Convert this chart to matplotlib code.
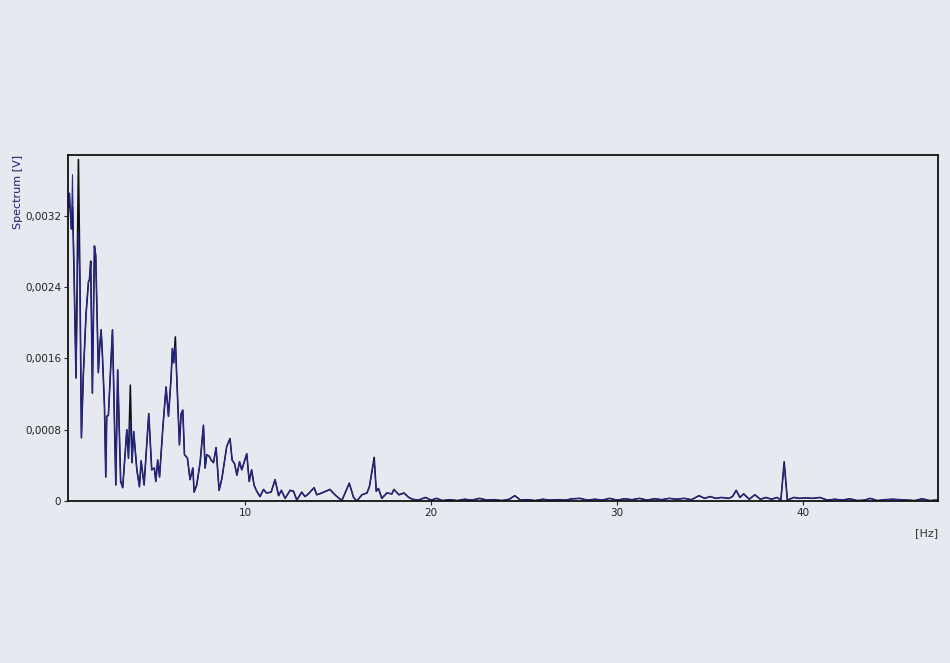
import numpy as np
import matplotlib.pyplot as plt
from matplotlib.ticker import FuncFormatter

# spectrum, amplitude in units of 1e-4 V
freq_hz = [
    0.52, 0.55, 0.66, 0.72, 0.80, 0.91, 1.04, 1.12, 1.20, 1.30,
    1.45, 1.58, 1.63, 1.70, 1.79, 1.90, 1.97, 2.11, 2.19, 2.26,
    2.33, 2.44, 2.51, 2.56, 2.65, 2.87, 3.05, 3.15, 3.31, 3.42,
    3.64, 3.73, 3.83, 3.92, 4.01, 4.18, 4.32, 4.41, 4.57, 4.82,
    4.98, 5.12, 5.20, 5.30, 5.40, 5.57, 5.75, 5.88, 6.02, 6.09,
    6.16, 6.25, 6.31, 6.47, 6.56, 6.65, 6.74, 6.90, 7.04, 7.19,
    7.26, 7.40, 7.58, 7.76, 7.85, 7.94, 8.08, 8.17, 8.30, 8.44,
    8.60, 8.75, 9.01, 9.19, 9.30, 9.43, 9.56, 9.70, 9.82, 10.09,
    10.22, 10.35, 10.48, 10.60, 10.80, 10.99, 11.15, 11.40, 11.61, 11.80,
    11.95, 12.15, 12.42, 12.60, 12.78, 13.04, 13.22, 13.40, 13.71, 13.85,
    14.12, 14.56, 14.83, 15.05, 15.21, 15.60, 15.83, 16.01, 16.28, 16.55,
    16.68, 16.94, 17.05, 17.17, 17.35, 17.62, 17.89, 18.00, 18.27, 18.54,
    18.80, 19.00, 19.30, 19.70, 20.00, 20.30, 20.60, 21.00, 21.40, 21.80,
    22.20, 22.60, 23.00, 23.40, 23.80, 24.20, 24.50, 24.80, 25.20, 25.60,
    26.00, 26.40, 26.80, 27.20, 27.60, 28.00, 28.40, 28.80, 29.20, 29.60,
    30.00, 30.40, 30.80, 31.20, 31.60, 32.00, 32.40, 32.80, 33.20, 33.60,
    34.00, 34.40, 34.70, 35.00, 35.30, 35.60, 36.00, 36.20, 36.40, 36.60,
    36.80, 37.10, 37.40, 37.70, 38.00, 38.30, 38.60, 38.80, 38.98, 39.15,
    39.50, 39.80, 40.10, 40.50, 40.90, 41.30, 41.70, 42.10, 42.50, 42.90,
    43.30, 43.60, 44.00, 44.40, 44.80, 45.20, 45.60, 46.00, 46.40, 46.80,
    47.20,
]
black_amp = [
    33.0, 34.5, 30.5, 33.0, 26.0, 13.8, 38.3, 25.0, 7.1, 14.0,
    21.0, 24.6, 24.8, 26.9, 12.1, 28.6, 27.5, 14.4, 17.5, 19.2,
    16.3, 10.6, 2.7, 9.5, 9.6, 19.2, 1.8, 14.7, 2.2, 1.5,
    8.0, 4.8, 13.0, 4.3, 7.8, 3.5, 1.6, 4.5, 1.8, 9.8,
    3.5, 3.7, 2.2, 4.6, 2.7, 8.0, 12.8, 9.5, 13.8, 17.1,
    15.5, 18.4, 14.7, 6.3, 9.8, 10.2, 5.2, 4.8, 2.4, 3.7,
    1.0, 1.8, 4.3, 8.5, 3.7, 5.2, 5.0, 4.6, 4.3, 6.0,
    1.2, 2.5, 6.1, 7.0, 4.6, 4.2, 2.9, 4.4, 3.5, 5.3,
    2.2, 3.5, 1.8, 1.2, 0.5, 1.3, 0.9, 1.0, 2.4, 0.6,
    1.2, 0.3, 1.2, 1.1, 0.1, 1.0, 0.5, 0.8, 1.5, 0.7,
    0.9, 1.3, 0.7, 0.3, 0.1, 2.0, 0.4, 0.0, 0.7, 0.9,
    1.6, 4.9, 1.1, 1.4, 0.3, 0.9, 0.8, 1.3, 0.7, 0.9,
    0.4, 0.2, 0.1, 0.4, 0.1, 0.3, 0.05, 0.15, 0.05, 0.2,
    0.1, 0.3, 0.1, 0.15, 0.05, 0.2, 0.6, 0.1, 0.15, 0.05,
    0.2, 0.1, 0.15, 0.1, 0.25, 0.3, 0.1, 0.2, 0.1, 0.3,
    0.1, 0.25, 0.15, 0.3, 0.1, 0.25, 0.15, 0.3, 0.2, 0.3,
    0.15, 0.6, 0.3, 0.5, 0.3, 0.4, 0.3, 0.5, 1.2, 0.4,
    0.8, 0.2, 0.7, 0.2, 0.4, 0.2, 0.4, 0.1, 4.4, 0.1,
    0.4, 0.3, 0.35, 0.3, 0.4, 0.1, 0.2, 0.1, 0.25, 0.05,
    0.1, 0.3, 0.05, 0.15, 0.2, 0.15, 0.1, 0.05, 0.25, 0.05,
    0.1,
]
# where the blue trace departs from the black one
blue_freq = [0.72, 1.04, 3.83, 6.25, 16.94, 38.98]
blue_amp = [36.6, 30.1, 9.0, 17.3, 4.6, 4.2]

y_ticks = [0, 0.0008, 0.0016, 0.0024, 0.0032]
x_ticks = [10, 20, 30, 40]

bg = '#e6e9f0'

freq = np.array(freq_hz)
black = np.array(black_amp) * 1e-4
blue = black.copy()
for f, a in zip(blue_freq, blue_amp):
    blue[np.argmin(np.abs(freq - f))] = a * 1e-4

fig = plt.figure(figsize=(9.5, 6.63), dpi=100, facecolor=bg)
ax = fig.add_axes([0.0716, 0.2443, 0.9158, 0.5219], facecolor=bg)

ax.plot(freq, black, color='#111111', lw=1.15)
ax.plot(freq, blue, color='#2626a0', lw=0.75)

ax.set_xlim(0.48, 47.25)
ax.set_ylim(0, 0.00388)
ax.set_xticks(x_ticks)
ax.set_yticks(y_ticks)
ax.yaxis.set_major_formatter(FuncFormatter(
    lambda v, p: '0' if v == 0 else ('%g' % v).replace('.', ',')))

ax.tick_params(labelsize=7.5, length=3, width=0.8, pad=2, colors='#222222')
for s in ax.spines.values():
    s.set_linewidth(1.3)
    s.set_color('#111111')

fig.text(0.019, 0.7662, 'Spectrum [V]', rotation=90, ha='center', va='top',
         fontsize=8, color='#1c1c6e')
fig.text(0.9757, 0.196, '[Hz]', ha='center', va='center',
         fontsize=8, color='#333333')

plt.savefig('out.png', dpi=100, facecolor=bg)
